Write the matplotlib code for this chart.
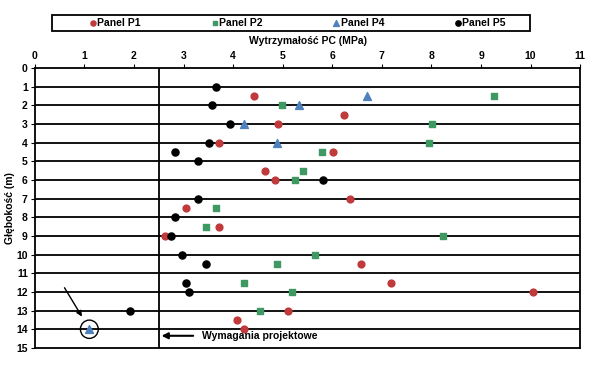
import matplotlib
matplotlib.use("Agg")
import matplotlib.pyplot as plt
from matplotlib.patches import Ellipse, Rectangle

plt.rcParams["font.family"] = ["Liberation Sans", "DejaVu Sans"]
plt.rcParams["font.weight"] = "bold"

# Panel P1 (red circles)
p1_x = [4.43, 6.23, 4.90, 3.72, 6.01, 4.64, 4.85, 6.36, 3.04, 3.72, 2.62, 6.57, 7.19, 10.05, 5.10, 4.08, 4.22]
p1_d = [1.5, 2.5, 3, 4, 4.5, 5.5, 6, 7, 7.5, 8.5, 9, 10.5, 11.5, 12, 13, 13.5, 14]

# Panel P2 (green squares)
p2_x = [9.26, 4.98, 8.02, 7.95, 5.80, 5.40, 5.24, 3.66, 3.46, 8.23, 5.66, 4.89, 4.22, 5.19, 4.55]
p2_d = [1.5, 2, 3, 4, 4.5, 5.5, 6, 7.5, 8.5, 9, 10, 10.5, 11.5, 12, 13]

# Panel P4 (blue triangles)
p4_x = [6.71, 5.33, 4.22, 4.89, 1.10]
p4_d = [1.5, 2, 3, 4, 14]

# Panel P5 (black circles)
p5_x = [3.66, 3.58, 3.93, 3.52, 2.83, 3.30, 5.81, 3.30, 2.83, 2.75, 2.96, 3.46, 3.04, 3.10, 1.93]
p5_d = [1, 2, 3, 4, 4.5, 5, 6, 7, 8, 9, 10, 10.5, 11.5, 12, 13]

design_limit = 2.5

fig = plt.figure(figsize=(6, 3.67), dpi=100)
ax = fig.add_axes([0.058, 0.052, 0.909, 0.763])

# horizontal lines at every metre
for d in range(1, 15):
    ax.axhline(d, color="black", linewidth=1.3, zorder=1)
ax.axvline(design_limit, color="black", linewidth=1.3, zorder=1)

ax.scatter(p1_x, p1_d, marker="o", s=24, color="#C0393B", label="Panel P1", zorder=3)
ax.scatter(p2_x, p2_d, marker="s", s=20, color="#3E9A62", label="Panel P2", zorder=3)
ax.scatter(p4_x, p4_d, marker="^", s=32, color="#4F81BD", label="Panel P4", zorder=3)
ax.scatter(p5_x, p5_d, marker="o", s=26, color="black", label="Panel P5", zorder=3)

# circle + arrow around the outlier
ax.add_patch(Ellipse((1.10, 14.0), 0.36, 0.98, fill=False, edgecolor="black", linewidth=1.0, zorder=4))
ax.annotate("", xy=(0.98, 13.45), xytext=(0.57, 11.65),
            arrowprops=dict(arrowstyle="-|>", color="black", lw=1.0, mutation_scale=8))

# design requirement label
ax.annotate("", xy=(design_limit, 14.35), xytext=(3.25, 14.35),
            arrowprops=dict(arrowstyle="-|>", color="black", lw=1.5, mutation_scale=9))
ax.text(3.38, 14.35, "Wymagania projektowe", fontsize=7.5, fontweight="bold", va="center", ha="left")

ax.set_xlim(0, 11)
ax.set_ylim(15, 0)
ax.set_xticks(range(0, 12))
ax.set_yticks(range(0, 16))
ax.xaxis.tick_top()
ax.xaxis.set_label_position("top")
ax.tick_params(axis="both", labelsize=7.5, length=3, width=0.8, pad=2)
for lab in ax.get_xticklabels() + ax.get_yticklabels():
    lab.set_fontweight("bold")
ax.set_xlabel("Wytrzymałość PC (MPa)", fontsize=7.5, fontweight="bold", labelpad=5)
ax.set_ylabel("Głębokość (m)", fontsize=7.5, fontweight="bold", labelpad=1)
for sp in ax.spines.values():
    sp.set_linewidth(1.3)

# legend box drawn separately, entries spread across it
fig.patches.append(Rectangle((0.087, 0.9155), 0.797, 0.0435, transform=fig.transFigure,
                             fill=False, edgecolor="black", linewidth=1.3))
leg = fig.legend(loc="center left", bbox_to_anchor=(0.148, 0.9375, 0.695, 0.0), mode="expand",
                 ncol=4, frameon=False, handletextpad=0.0, handlelength=0.8, borderpad=0.0,
                 borderaxespad=0.0, markerscale=0.75, prop={"weight": "bold", "size": 7.5})

fig.savefig("out.png", dpi=100)
